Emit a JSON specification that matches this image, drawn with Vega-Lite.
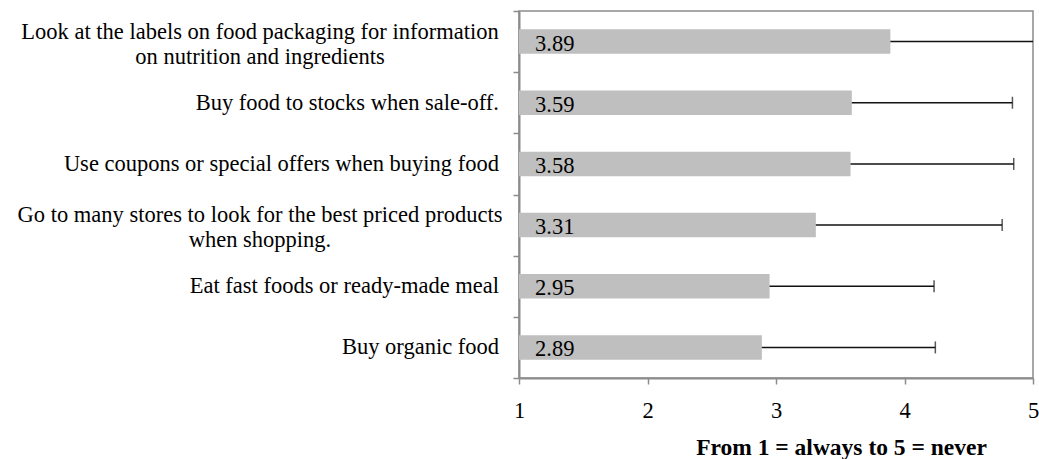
{
  "$schema": "https://vega.github.io/schema/vega-lite/v6.json",
  "autosize": "none",
  "padding": {"left": 519, "top": 11, "right": 6, "bottom": 81},
  "width": 514,
  "height": 367,
  "background": "white",
  "data": {
    "values": [
      {"item": "Look at the labels on food packaging for information|on nutrition and ingredients", "mean": 3.89, "upper": 5.15},
      {"item": "Buy food to stocks when sale-off.", "mean": 3.59, "upper": 4.84},
      {"item": "Use coupons or special offers when buying food", "mean": 3.58, "upper": 4.85},
      {"item": "Go to many stores to look for the best priced products|when shopping.", "mean": 3.31, "upper": 4.76},
      {"item": "Eat fast foods or ready-made meal", "mean": 2.95, "upper": 4.23},
      {"item": "Buy organic food", "mean": 2.89, "upper": 4.24}
    ]
  },
  "encoding": {
    "y": {
      "field": "item",
      "type": "nominal",
      "sort": null,
      "scale": {"paddingInner": 0, "paddingOuter": 0},
      "axis": {
        "title": null,
        "labels": false,
        "tickBand": "extent",
        "tickSize": 6,
        "tickColor": "#8c8c8c",
        "tickWidth": 1.5,
        "domainColor": "#8c8c8c",
        "domainWidth": 2
      }
    }
  },
  "layer": [
    {
      "mark": {"type": "bar", "color": "#bfbfbf", "height": {"band": 0.4}},
      "encoding": {
        "x": {
          "field": "mean",
          "type": "quantitative",
          "title": "From 1 = always to 5 = never",
          "scale": {"domain": [1, 5], "nice": false, "zero": false},
          "axis": {
            "values": [1, 2, 3, 4, 5],
            "format": "d",
            "grid": false,
            "titleFont": "Liberation Serif",
            "titleFontSize": 23.5,
            "titleFontWeight": "bold",
            "titleColor": "black",
            "titleX": 322,
            "titleY": 76,
            "titleAlign": "center",
            "titleBaseline": "alphabetic",
            "labelFont": "Liberation Serif",
            "labelFontSize": 22.5,
            "labelColor": "black",
            "labelPadding": 15,
            "labelFlush": false,
            "tickSize": 6,
            "tickColor": "#8c8c8c",
            "tickWidth": 1.5,
            "domainColor": "#8c8c8c",
            "domainWidth": 2
          }
        },
        "x2": {"datum": 1}
      }
    },
    {
      "mark": {"type": "rule", "color": "#111111", "strokeWidth": 1.5, "clip": true},
      "encoding": {
        "x": {"field": "mean", "type": "quantitative", "title": "From 1 = always to 5 = never"},
        "x2": {"field": "upper"}
      }
    },
    {
      "mark": {"type": "tick", "color": "#111111", "thickness": 1.5, "size": 12, "clip": true},
      "encoding": {
        "x": {"field": "upper", "type": "quantitative", "title": "From 1 = always to 5 = never"}
      }
    },
    {
      "mark": {"type": "text", "align": "left", "baseline": "middle", "dx": 16, "dy": 2, "font": "Liberation Serif", "fontSize": 22.5, "color": "black"},
      "encoding": {
        "x": {"datum": 1, "type": "quantitative", "title": "From 1 = always to 5 = never"},
        "text": {"field": "mean", "type": "quantitative", "format": ".2f"}
      }
    },
    {
      "transform": [{"filter": "indexof(datum.item, '|') < 0"}],
      "mark": {"type": "text", "align": "right", "baseline": "middle", "dx": -20, "font": "Liberation Serif", "fontSize": 22.5, "color": "black"},
      "encoding": {
        "x": {"datum": 1, "type": "quantitative", "title": "From 1 = always to 5 = never"},
        "text": {"field": "item", "type": "nominal"}
      }
    },
    {
      "transform": [{"filter": "indexof(datum.item, '|') >= 0"}],
      "mark": {"type": "text", "align": "center", "baseline": "middle", "dx": -259, "dy": -10, "lineBreak": "|", "lineHeight": 25, "font": "Liberation Serif", "fontSize": 22.5, "color": "black"},
      "encoding": {
        "x": {"datum": 1, "type": "quantitative", "title": "From 1 = always to 5 = never"},
        "text": {"field": "item", "type": "nominal"}
      }
    }
  ],
  "config": {
    "view": {"stroke": "#8c8c8c", "strokeWidth": 1.5}
  }
}
